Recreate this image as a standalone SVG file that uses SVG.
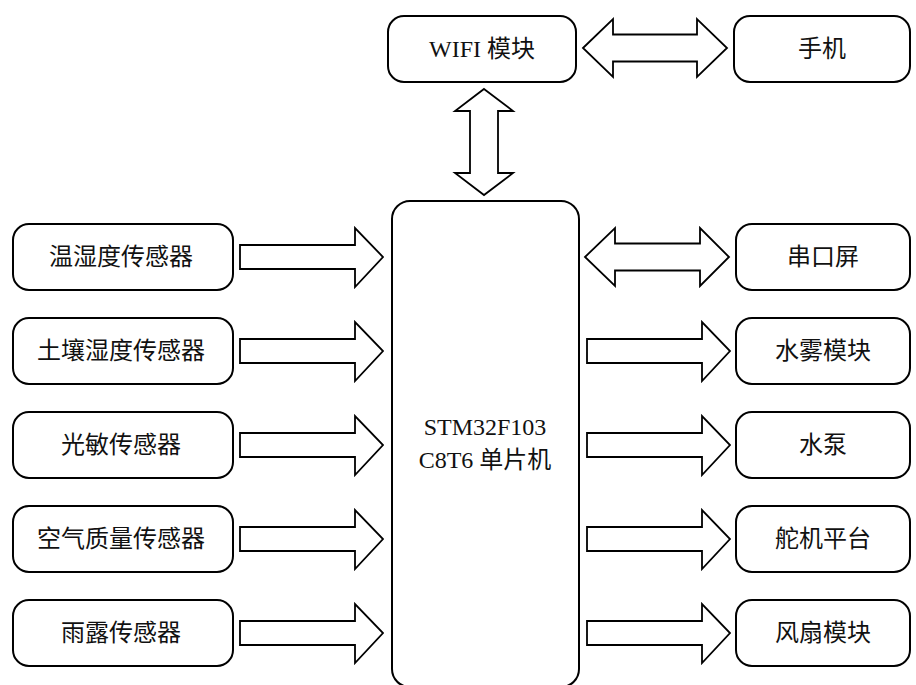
<svg xmlns="http://www.w3.org/2000/svg" width="916" height="685" viewBox="0 0 916 685">
<style>
.box{fill:#fff;stroke:#000;stroke-width:2}
.arr{fill:#fff;stroke:#000;stroke-width:1.8;stroke-linejoin:miter}
.t{font-family:"Liberation Serif","Noto Sans CJK SC",serif;font-size:24px;fill:#111;text-anchor:middle;dominant-baseline:central}
</style>
<rect width="916" height="685" fill="#fff"/>
<g id="connectors">
<path class="arr" d="M583,48 L613,19 L613,34.5 L697,34.5 L697,19 L727,48 L697,77 L697,61.5 L613,61.5 L613,77 Z"/>
<path class="arr" d="M484,89 L513,111 L498,111 L498,173 L513,173 L484,195 L455,173 L470,173 L470,111 L455,111 Z"/>
<path class="arr" d="M585,257 L615,228 L615,243.5 L700,243.5 L700,228 L729,257 L700,286 L700,270.5 L615,270.5 L615,286 Z"/>
<path class="arr" d="M240,245 L355,245 L355,228 L383,257 L355,287 L355,269 L240,269 Z"/>
<path class="arr" d="M240,339 L355,339 L355,322 L383,351 L355,381 L355,363 L240,363 Z"/>
<path class="arr" d="M240,433 L355,433 L355,416 L383,445 L355,475 L355,457 L240,457 Z"/>
<path class="arr" d="M240,527 L355,527 L355,510 L383,539 L355,569 L355,551 L240,551 Z"/>
<path class="arr" d="M240,621 L355,621 L355,604 L383,633 L355,663 L355,645 L240,645 Z"/>
<path class="arr" d="M587,339 L702,339 L702,322 L730,351 L702,381 L702,363 L587,363 Z"/>
<path class="arr" d="M587,433 L702,433 L702,416 L730,445 L702,475 L702,457 L587,457 Z"/>
<path class="arr" d="M587,527 L702,527 L702,510 L730,539 L702,569 L702,551 L587,551 Z"/>
<path class="arr" d="M587,621 L702,621 L702,604 L730,633 L702,663 L702,645 L587,645 Z"/>
</g>
<g id="wifi"><rect class="box" x="388" y="16" width="188" height="66" rx="16"/><text class="t" x="482" y="49">WIFI 模块</text></g>
<g id="phone"><rect class="box" x="734" y="16" width="176" height="66" rx="16"/><text class="t" x="822" y="49">手机</text></g>
<g id="mcu"><rect class="box" x="392" y="201" width="187" height="486" rx="18"/><text class="t" x="485" y="427">STM32F103</text><text class="t" x="485" y="460">C8T6 单片机</text></g>
<g id="s1"><rect class="box" x="13" y="224" width="220" height="66" rx="16"/><text class="t" x="121" y="257">温湿度传感器</text></g>
<g id="s2"><rect class="box" x="13" y="318" width="220" height="66" rx="16"/><text class="t" x="121" y="351">土壤湿度传感器</text></g>
<g id="s3"><rect class="box" x="13" y="412" width="220" height="66" rx="16"/><text class="t" x="121" y="445">光敏传感器</text></g>
<g id="s4"><rect class="box" x="13" y="506" width="220" height="66" rx="16"/><text class="t" x="121" y="539">空气质量传感器</text></g>
<g id="s5"><rect class="box" x="13" y="600" width="220" height="66" rx="16"/><text class="t" x="121" y="633">雨露传感器</text></g>
<g id="o1"><rect class="box" x="736" y="224" width="174" height="66" rx="16"/><text class="t" x="823" y="257">串口屏</text></g>
<g id="o2"><rect class="box" x="736" y="318" width="174" height="66" rx="16"/><text class="t" x="823" y="351">水雾模块</text></g>
<g id="o3"><rect class="box" x="736" y="412" width="174" height="66" rx="16"/><text class="t" x="823" y="445">水泵</text></g>
<g id="o4"><rect class="box" x="736" y="506" width="174" height="66" rx="16"/><text class="t" x="823" y="539">舵机平台</text></g>
<g id="o5"><rect class="box" x="736" y="600" width="174" height="66" rx="16"/><text class="t" x="823" y="633">风扇模块</text></g>
</svg>
